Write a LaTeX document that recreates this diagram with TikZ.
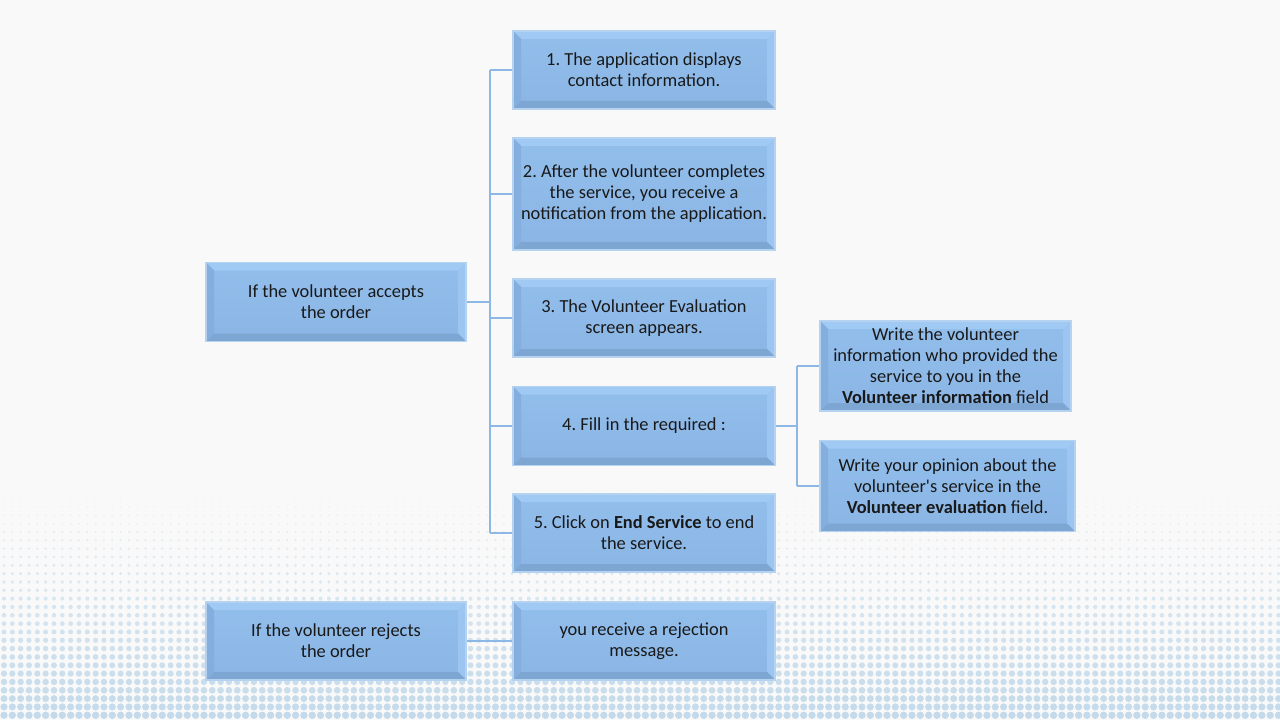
\documentclass[tikz,border=0pt]{standalone}
\usepackage{fontspec}
\setmainfont{Carlito}
\frenchspacing
\definecolor{bgc}{HTML}{F9F9FA}
\definecolor{dotc}{HTML}{C4DAEA}
\definecolor{boxtop}{HTML}{92BEEC}
\definecolor{boxbot}{HTML}{8AB5E4}
\definecolor{bevT}{HTML}{A0C9F3}
\definecolor{bevL}{HTML}{84AEDD}
\definecolor{bevR}{HTML}{9CC6F1}
\definecolor{bevB}{HTML}{7EA6D3}
\definecolor{boxline}{HTML}{B5D3F0}
\definecolor{conncol}{HTML}{8DB8E5}
\tikzset{
  bevbox/.style={rectangle, draw=boxline, line width=1.2pt, top color=boxtop, bottom color=boxbot,
    align=center, inner sep=0pt, text=black!90,
    font=\fontsize{13.8}{15.75}\selectfont,
    path picture={
      \fill[bevT] (path picture bounding box.north west) -- (path picture bounding box.north east)
        -- ([xshift=-6pt,yshift=-6pt]path picture bounding box.north east)
        -- ([xshift=6pt,yshift=-6pt]path picture bounding box.north west) -- cycle;
      \fill[bevL] (path picture bounding box.north west) -- (path picture bounding box.south west)
        -- ([xshift=6pt,yshift=6pt]path picture bounding box.south west)
        -- ([xshift=6pt,yshift=-6pt]path picture bounding box.north west) -- cycle;
      \fill[bevR] (path picture bounding box.north east) -- (path picture bounding box.south east)
        -- ([xshift=-6pt,yshift=6pt]path picture bounding box.south east)
        -- ([xshift=-6pt,yshift=-6pt]path picture bounding box.north east) -- cycle;
      \fill[bevB] (path picture bounding box.south west) -- (path picture bounding box.south east)
        -- ([xshift=-6pt,yshift=6pt]path picture bounding box.south east)
        -- ([xshift=6pt,yshift=6pt]path picture bounding box.south west) -- cycle;
    }},
  conn/.style={draw=conncol, line width=0.9pt}
}
\begin{document}
\begin{tikzpicture}[x=0.75pt,y=-0.75pt]
\fill[bgc] (0,0) rectangle (1280,720);
\useasboundingbox (0,0) rectangle (1280,720);
% dotted background
\foreach \i in {0,...,28}{
  \pgfmathsetmacro\rr{0.35+3.35*\i/28}
  \pgfmathtruncatemacro\pc{25+75*\i/28}
  \fill[dotc!\pc!bgc] \foreach \j in {0,...,153}{ (4+8.33*\j, 482+8.33*\i) circle[radius=\rr] };
}
% nodes
\node[bevbox, minimum width=195pt, minimum height=59.25pt] (acc) at (336,302) {If the volunteer accepts\\the order};
\node[bevbox, minimum width=196.5pt, minimum height=58.5pt] (b1) at (644,70) {1. The application displays\\contact information.};
\node[bevbox, minimum width=196.5pt, minimum height=84pt] (b2) at (644,194) {2. After the volunteer completes\\the service, you receive a\\notification from the application.};
\node[bevbox, minimum width=196.5pt, minimum height=58.5pt] (b3) at (644,318) {3. The Volunteer Evaluation\\screen appears.};
\node[bevbox, minimum width=196.5pt, minimum height=59.25pt] (b4) at (644,426) {4. Fill in the required :};
\node[bevbox, minimum width=196.5pt, minimum height=58.5pt] (b5) at (644,533) {5. Click on \textbf{End Service} to end\\the service.};
\node[bevbox, minimum width=188.25pt, minimum height=67.5pt] (s1) at (945.5,366) {Write the volunteer\\information who provided the\\service to you in the\\\textbf{Volunteer information} field};
\node[bevbox, minimum width=191.25pt, minimum height=68.25pt] (s2) at (947.5,486) {Write your opinion about the\\volunteer\textquotesingle s service in the\\\textbf{Volunteer evaluation} field.};
\node[bevbox, minimum width=195pt, minimum height=58.5pt] (rej) at (336,641) {If the volunteer rejects\\the order};
\node[bevbox, minimum width=196.5pt, minimum height=58.5pt] (msg) at (644,641) {you receive a rejection\\message.};
% connectors
\coordinate (t1) at (490,70);
\coordinate (t5) at (490,533);
\coordinate (u1) at (797,366);
\coordinate (u2) at (797,486);
\draw[conn] (acc.east) -- (acc.east -| t1);
\draw[conn] (t1) -- (t5);
\draw[conn] (t1) -- (b1.west);
\draw[conn] (b2.west -| t1) -- (b2.west);
\draw[conn] (b3.west -| t1) -- (b3.west);
\draw[conn] (b4.west -| t1) -- (b4.west);
\draw[conn] (t5) -- (b5.west);
\draw[conn] (b4.east) -- (b4.east -| u1);
\draw[conn] (u1) -- (u2);
\draw[conn] (u1) -- (s1.west);
\draw[conn] (u2) -- (s2.west);
\draw[conn] (rej.east) -- (msg.west);
\end{tikzpicture}
\end{document}
